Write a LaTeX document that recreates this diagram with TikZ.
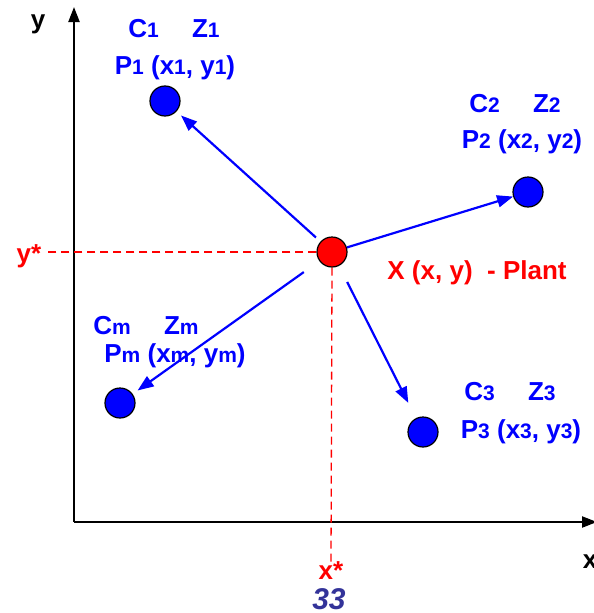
\documentclass[tikz,border=0pt]{standalone}
\usepackage{fontspec}
\setmainfont{Liberation Sans}
\usetikzlibrary{arrows.meta,positioning}

\definecolor{siteblue}{RGB}{0,0,255}
\definecolor{plantred}{RGB}{255,0,0}
\definecolor{pagenum}{RGB}{51,51,153}
% small baseline index, as in C1, P1, xm ...
\newcommand\idx[1]{{\fontsize{21}{21}\selectfont #1}}

\begin{document}
\begin{tikzpicture}[
    x=1pt, y=-1pt,
    every node/.style={font=\fontsize{26}{28}\selectfont\bfseries,inner sep=0pt},
    site/.style={draw=black,line width=1.2pt,circle,minimum size=30pt,fill=siteblue},
    plant/.style={site,fill=plantred},
    lbl/.style={text=siteblue},
    redlbl/.style={text=plantred},
    axis/.style={-{Triangle[length=15pt,width=11pt]},line width=2.2pt,black},
    link/.style={-{Triangle[length=16pt,width=12pt]},line width=2.2pt,siteblue},
    guide/.style={dash pattern=on 8pt off 5pt,line width=1.3pt,plantred}
]
\useasboundingbox (0,0) rectangle (594,613);

% Axes
\coordinate (O) at (74,522);
\coordinate (ytip) at (74,7);
\coordinate (xtip) at (597,522);
\draw[axis] (O) -- (ytip);
\draw[axis] (O) -- (xtip);
\node (ylab) at (38,24) {y};
\node (xlab) at (590,562) {x};

% Labels of the optimum
\node[redlbl] (ystar) at (29,256) {y*};
\node[redlbl] (xstar) at (331,571) {x*};
\node[text=pagenum,font=\fontsize{30}{32}\selectfont\bfseries\itshape] (page) at (329,599) {33};

% Sites and plant
\node[site] (P1) at (165,101) {};
\node[site] (P2) at (528,192) {};
\node[site] (P3) at (423,432) {};
\node[site] (Pm) at (120,403) {};
\node[plant] (X) at (332,252) {};

% Dashed guides to the axes
\draw[guide] (X.west) -- ([xshift=3pt]ystar.east |- X.west);
\draw[guide] (X.south) -- (xstar.north);

% Site labels
\node[lbl] (c1) at (174,29) {C\idx{1}\quad\ Z\idx{1}};
\node[lbl] (p1) at (175,68) {P\idx{1} (x\idx{1}, y\idx{1})};
\node[lbl] (c2) at (515,104) {C\idx{2}\quad\ Z\idx{2}};
\node[lbl] (p2) at (522,142) {P\idx{2} (x\idx{2}, y\idx{2})};
\node[lbl] (cm) at (146,326) {C\idx{m}\quad\ Z\idx{m}};
\node[lbl] (pm) at (175,356) {P\idx{m} (x\idx{m}, y\idx{m})};
\node[lbl] (c3) at (510,392) {C\idx{3}\quad\ Z\idx{3}};
\node[lbl] (p3) at (521,432) {P\idx{3} (x\idx{3}, y\idx{3})};
\node[redlbl] (xl) at (477,273) {X (x, y)\ \ - Plant};

% Links from the plant to the sites
\draw[link,shorten <=6pt,shorten >=6pt] (X) -- (P1);
\draw[link] (X) -- (P2);
\draw[link,shorten <=19pt,shorten >=6pt] (X) -- (Pm);
\draw[link,shorten <=18pt,shorten >=17pt] (X) -- (P3);

\end{tikzpicture}
\end{document}
